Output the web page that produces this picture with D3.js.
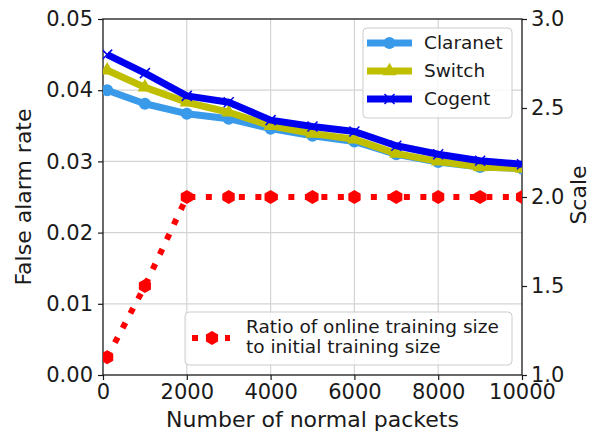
<!DOCTYPE html>
<html>
<head>
<meta charset="utf-8">
<script src="https://cdn.jsdelivr.net/npm/d3@7"></script>
<style>
  body { margin: 0; background: #fff; }
  svg text { font-family: "DejaVu Sans", sans-serif; fill: #1a1a1a; }
</style>
</head>
<body>
<div id="chart"></div>
<script>
// data
var packets = [100, 1000, 2000, 3000, 4000, 5000, 6000, 7000, 8000, 9000, 10000];
var claranet = [0.0400, 0.0381, 0.0367, 0.0360, 0.0346, 0.0336, 0.0328, 0.0310, 0.0299, 0.0292, 0.0290];
var switchRate = [0.0428, 0.0404, 0.0383, 0.0369, 0.0350, 0.0339, 0.0331, 0.0311, 0.0300, 0.0292, 0.0290];
var cogent = [0.0450, 0.0424, 0.0392, 0.0383, 0.0358, 0.0349, 0.0342, 0.0322, 0.0310, 0.0301, 0.0296];
var ratio = [1.1, 1.5, 2.0, 2.0, 2.0, 2.0, 2.0, 2.0, 2.0, 2.0, 2.0];
var xTicks = [0, 2000, 4000, 6000, 8000, 10000];
var yTicks = [0.00, 0.01, 0.02, 0.03, 0.04, 0.05];
var y2Ticks = [1.0, 1.5, 2.0, 2.5, 3.0];

var margin = {top: 19, right: 69, bottom: 59, left: 103};
var width = 591 - margin.left - margin.right;
var height = 434 - margin.top - margin.bottom;

var svg = d3.select("#chart")
  .append("svg")
    .attr("width", 591)
    .attr("height", 434)
  .append("g")
    .attr("transform", "translate(" + margin.left + "," + margin.top + ")");

var xScale = d3.scaleLinear().domain([0, 10000]).range([0, width]);
var yScale = d3.scaleLinear().domain([0, 0.05]).range([height, 0]);
var y2Scale = d3.scaleLinear().domain([1.0, 3.0]).range([height, 0]);

svg.append("defs").append("clipPath")
  .attr("id", "clip")
  .append("rect")
  .attr("width", width)
  .attr("height", height);

// grid
svg.append("g").selectAll("line")
  .data(xTicks.slice(1, -1))
  .enter().append("line")
    .attr("x1", function(d) { return xScale(d); })
    .attr("x2", function(d) { return xScale(d); })
    .attr("y1", 0).attr("y2", height)
    .attr("stroke", "#d4d4d4").attr("stroke-width", 1.2);
svg.append("g").selectAll("line")
  .data(yTicks.slice(1, -1))
  .enter().append("line")
    .attr("y1", function(d) { return yScale(d); })
    .attr("y2", function(d) { return yScale(d); })
    .attr("x1", 0).attr("x2", width)
    .attr("stroke", "#d4d4d4").attr("stroke-width", 1.2);

// axes
var fontSize = 21;
var labelSize = 22;
var xAxis = svg.append("g")
  .attr("transform", "translate(0," + height + ")")
  .call(d3.axisBottom(xScale).tickValues(xTicks).tickSize(5).tickPadding(4).tickFormat(d3.format("d")));
var yAxis = svg.append("g")
  .call(d3.axisLeft(yScale).tickValues(yTicks).tickSize(5).tickPadding(5).tickFormat(d3.format(".2f")));
var y2Axis = svg.append("g")
  .attr("transform", "translate(" + width + ",0)")
  .call(d3.axisRight(y2Scale).tickValues(y2Ticks).tickSize(5).tickPadding(4).tickFormat(d3.format(".1f")));

[xAxis, yAxis, y2Axis].forEach(function(a) {
  a.select(".domain").remove();
  a.selectAll(".tick line").attr("stroke", "#1a1a1a").attr("stroke-width", 1.2);
  a.selectAll(".tick text").style("font-size", fontSize + "px").attr("fill", "#1a1a1a");
});

// frame
svg.append("rect")
  .attr("width", width).attr("height", height)
  .attr("fill", "none").attr("stroke", "#1a1a1a").attr("stroke-width", 1.3);

// axis labels
svg.append("text")
  .attr("x", width / 2).attr("y", height + 52)
  .attr("text-anchor", "middle")
  .style("font-size", labelSize + "px")
  .text("Number of normal packets");
svg.append("text")
  .attr("transform", "rotate(-90)")
  .attr("x", -height / 2).attr("y", -72)
  .attr("text-anchor", "middle")
  .style("font-size", labelSize + "px")
  .text("False alarm rate");
svg.append("text")
  .attr("transform", "rotate(-90)")
  .attr("x", -height / 2 + 2).attr("y", width + 64)
  .attr("text-anchor", "middle")
  .style("font-size", labelSize + "px")
  .text("Scale");

var plot = svg.append("g").attr("clip-path", "url(#clip)");

var series = [
  {name: "Claranet", values: claranet, color: "#3a9aea", marker: "circle"},
  {name: "Switch", values: switchRate, color: "#bfbf00", marker: "triangle"},
  {name: "Cogent", values: cogent, color: "#0000f0", marker: "x"}
];

function drawMarker(g, type, color, x, y) {
  if (type === "circle") {
    g.append("circle").attr("cx", x).attr("cy", y).attr("r", 6).attr("fill", color);
  } else if (type === "triangle") {
    g.append("path")
      .attr("d", d3.symbol().type(d3.symbolTriangle).size(90)())
      .attr("transform", "translate(" + x + "," + y + ")")
      .attr("fill", color);
  } else if (type === "x") {
    g.append("path")
      .attr("d", "M-5,-5L5,5M-5,5L5,-5")
      .attr("transform", "translate(" + x + "," + y + ")")
      .attr("stroke", color).attr("stroke-width", 1.5).attr("fill", "none");
  } else if (type === "hex") {
    var pts = d3.range(6).map(function(i) {
      var a = Math.PI / 3 * i;
      return [x + 7 * Math.sin(a), y - 7 * Math.cos(a)];
    });
    g.append("path").attr("d", "M" + pts.join("L") + "Z").attr("fill", color);
  }
}

series.forEach(function(s) {
  var line = d3.line()
    .x(function(d, i) { return xScale(packets[i]); })
    .y(function(d) { return yScale(d); });
  plot.append("path")
    .datum(s.values)
    .attr("d", line)
    .attr("fill", "none")
    .attr("stroke", s.color)
    .attr("stroke-width", 7)
    .attr("stroke-linejoin", "round");
  s.values.forEach(function(v, i) {
    drawMarker(plot, s.marker, s.color, xScale(packets[i]), yScale(v));
  });
});

// ratio line on right axis
var ratioLine = d3.line()
  .x(function(d, i) { return xScale(packets[i]); })
  .y(function(d) { return y2Scale(d); });
plot.append("path")
  .datum(ratio)
  .attr("d", ratioLine)
  .attr("fill", "none")
  .attr("stroke", "#ff0000")
  .attr("stroke-width", 6)
  .attr("stroke-dasharray", "6,10.5");
ratio.forEach(function(v, i) {
  drawMarker(plot, "hex", "#ff0000", xScale(packets[i]), y2Scale(v));
});

// legend 1
var leg1 = svg.append("g").attr("transform", "translate(" + (363 - margin.left) + "," + (28 - margin.top) + ")");
leg1.append("rect")
  .attr("width", 149).attr("height", 90).attr("rx", 4)
  .attr("fill", "#fff").attr("fill-opacity", 0.8)
  .attr("stroke", "#cccccc").attr("stroke-width", 1);
series.forEach(function(s, i) {
  var yy = 15 + i * 28;
  leg1.append("line")
    .attr("x1", 4).attr("x2", 49).attr("y1", yy).attr("y2", yy)
    .attr("stroke", s.color).attr("stroke-width", 7);
  drawMarker(leg1, s.marker, s.color, 26.5, yy);
  leg1.append("text")
    .attr("x", 61).attr("y", yy).attr("dy", "0.35em")
    .style("font-size", "18.5px")
    .text(s.name);
});

// legend 2
var leg2 = svg.append("g").attr("transform", "translate(" + (185 - margin.left) + "," + (312 - margin.top) + ")");
leg2.append("rect")
  .attr("width", 327).attr("height", 53).attr("rx", 4)
  .attr("fill", "#fff").attr("fill-opacity", 0.8)
  .attr("stroke", "#cccccc").attr("stroke-width", 1);
leg2.append("line")
  .attr("x1", 7).attr("x2", 45).attr("y1", 26).attr("y2", 26)
  .attr("stroke", "#ff0000").attr("stroke-width", 6)
  .attr("stroke-dasharray", "6,10.5");
drawMarker(leg2, "hex", "#ff0000", 27, 26);
leg2.append("text")
  .attr("x", 61).attr("y", 15).attr("dy", "0.35em")
  .style("font-size", "18.5px")
  .text("Ratio of online training size");
leg2.append("text")
  .attr("x", 61).attr("y", 35).attr("dy", "0.35em")
  .style("font-size", "18.5px")
  .text("to initial training size");
</script>
</body>
</html>
